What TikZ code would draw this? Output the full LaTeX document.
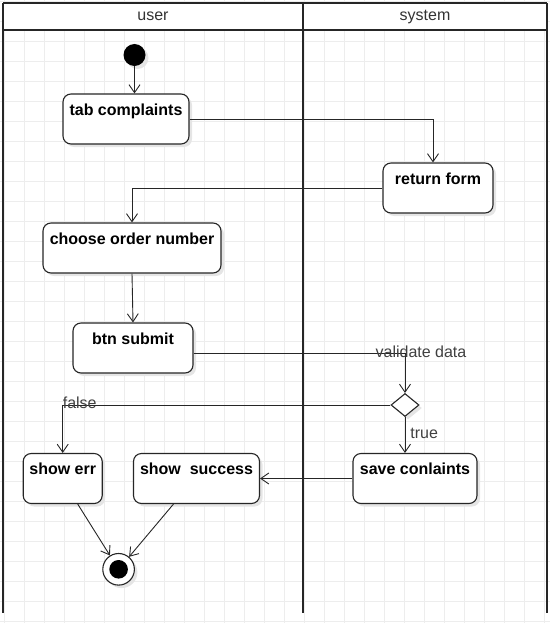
\documentclass[tikz,border=0pt]{standalone}
\usepackage{fontspec}
\setmainfont{Liberation Sans}
\usetikzlibrary{arrows.meta, shapes.geometric, shadows}
\tikzset{-{Straight Barb[length=8pt, width=11pt]},
	shade/.style = {drop shadow = {shadow xshift = 3pt, shadow yshift = -3pt, fill = black!10, opacity = 1}},
	act/.style = {draw, fill = white, rounded corners = 8pt, line width = 1.1pt, font = \fontsize{16}{19}\selectfont\bfseries, text height = 21pt, text depth = 29pt, inner ysep = 0pt, shade},
	lbl/.style = {text = black!75, inner sep = 1pt},
	lane/.style = {-, line width = 1.8pt},
	gridline/.style = {-, black!7, line width = 0.7pt}}

\begin{document}
\begin{tikzpicture}[x = 1pt, y = -1pt, font = \fontsize{16}{19}\selectfont, line width = 0.9pt, draw = black!85]
	
	\useasboundingbox (0, 0) rectangle (550, 623);
	\foreach \x in {4, 24, ..., 544}
		\draw[gridline] (\x, 0) -- (\x, 623);
	\foreach \y in {1, 21, ..., 621}
		\draw[gridline] (0, \y) -- (550, \y);
	
	% swimlanes
	\fill[white] (3, 3) rectangle (547, 30);
	\draw[lane] (3, 3) -- (547, 3);
	\draw[lane] (3, 30) -- (547, 30);
	\draw[lane] (3, 3) -- (3, 613);
	\draw[lane] (303, 3) -- (303, 613);
	\draw[lane] (547, 3) -- (547, 613);
	\node[text = black!80] (u) at (153, 16.5) {user};
	\node[text = black!80] (s) at (425, 16.5) {system};
	
	\node[circle, fill = black, minimum size = 22pt, inner sep = 0pt, shade] (1) at (134.5, 55) {};
	\node[act, minimum width = 126pt] (2) at (126, 119) {tab complaints};
	\node[act, minimum width = 110pt] (3) at (438, 188) {return form};
	\node[act, minimum width = 178pt] (4) at (132, 248) {choose order number};
	\node[act, minimum width = 120pt] (5) at (133, 348) {btn submit};
	\node[diamond, draw, fill = white, line width = 1.1pt, minimum width = 28pt, minimum height = 23pt, inner sep = 0pt, shade] (6) at (405, 405) {};
	\node[act, minimum width = 79pt] (7) at (62.7, 478.5) {show err};
	\node[act, minimum width = 124pt] (8) at (415, 478.5) {save conlaints};
	\node[act, minimum width = 126pt] (9) at (196.5, 478.5) {show\ \ success};
	\node[circle, draw, fill = white, line width = 1.1pt, minimum size = 31.6pt, inner sep = 0pt, shade,
		path picture = {\fill[black] (path picture bounding box.center) circle (9.3pt);}] (10) at (118.6, 569.3) {};
	
	\path (1) edge (1 |- 2.north);
	\draw (2.east) -| ([xshift = -5pt]3.north);
	\draw (3.west) -| (4.north);
	\path (4.south) edge (5.north);
	\draw ([yshift = -5pt]5.east) -| node[lbl, pos = 0.5, xshift = 16pt, yshift = 1pt] (v) {validate data} (6.north);
	\draw (6.west) -| node[lbl, pos = 0.5, xshift = 17pt, yshift = 2pt] (f) {false} (7.north);
	\draw (6.south) -- node[lbl, anchor = west, xshift = 4pt, yshift = 2pt] (t) {true} (6.south |- 8.north);
	\path (8) edge (9);
	
	\path ([xshift = 15pt]7.south) edge (10);
	\path ([xshift = -23pt]9.south) edge (10);
	
\end{tikzpicture}
\end{document}
